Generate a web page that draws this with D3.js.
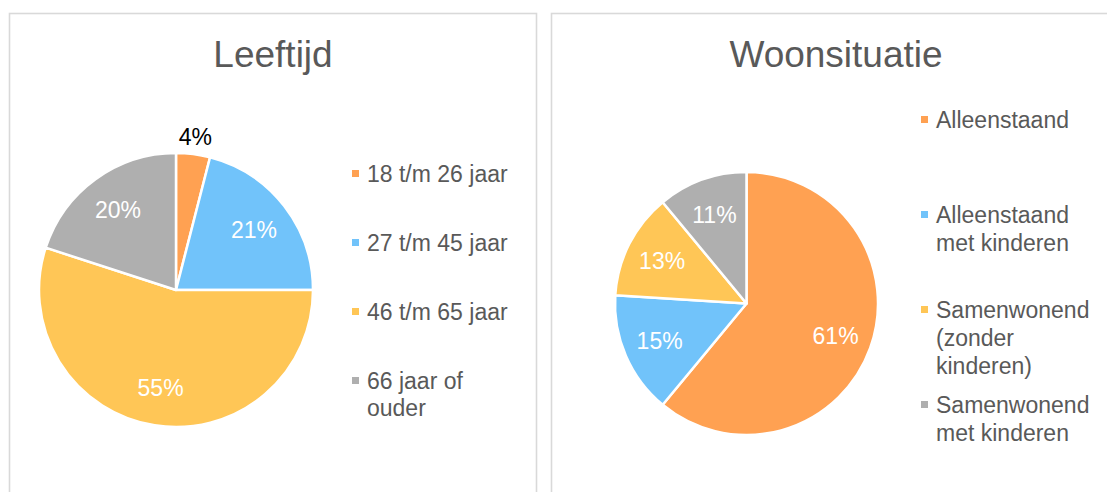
<!DOCTYPE html>
<html>
<head>
<meta charset="utf-8">
<script src="https://cdnjs.cloudflare.com/ajax/libs/d3/7.8.5/d3.min.js"></script>
<style>
  body { margin: 0; background: #fff; }
  svg { display: block; font-family: "Liberation Sans", Arial, sans-serif; }
</style>
</head>
<body>
<div id="chart"></div>
<script>

var ageCategories = ["18 t/m 26 jaar", "27 t/m 45 jaar", "46 t/m 65 jaar", "66 jaar of ouder"],
    ageValues = [4, 21, 55, 20];

var livingCategories = ["Alleenstaand", "Alleenstaand met kinderen", "Samenwonend (zonder kinderen)", "Samenwonend met kinderen"],
    livingValues = [61, 15, 13, 11];

var sliceColors = ["#FFA152", "#71C3FA", "#FFC656", "#AFAFAF"];

var svg = d3.select("#chart").append("svg")
    .attr("width", 1107)
    .attr("height", 492);

// chart frames
svg.append("rect")
  .attr("x", 9.5).attr("y", 13.5)
  .attr("width", 527).attr("height", 520)
  .attr("fill", "none").attr("stroke", "#D9D9D9").attr("stroke-width", 1.6);

svg.append("rect")
  .attr("x", 551.5).attr("y", 13.5)
  .attr("width", 600).attr("height", 520)
  .attr("fill", "none").attr("stroke", "#D9D9D9").attr("stroke-width", 1.6);

drawPie({
  title: "Leeftijd", titleX: 273,
  cx: 176, cy: 290, r: 137,
  categories: ageCategories, values: ageValues,
  legendX: 352, legendTop: 182, legendStep: 69, lineHeight: 27, wrapWidth: 155,
  outside: [0]
});

drawPie({
  title: "Woonsituatie", titleX: 836,
  cx: 746.5, cy: 303.5, r: 131.5,
  categories: livingCategories, values: livingValues,
  legendX: 921, legendTop: 128, legendStep: 95, lineHeight: 28, wrapWidth: 160,
  outside: []
});

function drawPie(opt) {
  var g = svg.append("g");

  g.append("text")
    .attr("x", opt.titleX).attr("y", 67)
    .attr("text-anchor", "middle")
    .attr("font-size", 37)
    .attr("fill", "#595959")
    .text(opt.title);

  var color = d3.scaleOrdinal().domain(opt.categories).range(sliceColors);

  var pie = d3.pie().sort(null).value(function(d) { return d.value; });
  var data = pie(opt.categories.map(function(c, i) { return {name: c, value: opt.values[i]}; }));

  var arc = d3.arc().innerRadius(0).outerRadius(opt.r),
      labelArc = d3.arc().innerRadius(opt.r * 0.72).outerRadius(opt.r * 0.72),
      outerArc = d3.arc().innerRadius(opt.r * 1.13).outerRadius(opt.r * 1.13);

  var pieG = g.append("g").attr("transform", "translate(" + opt.cx + "," + opt.cy + ")");

  pieG.selectAll("path.slice")
    .data(data)
    .enter().append("path")
    .attr("class", "slice")
    .attr("d", arc)
    .attr("fill", function(d) { return color(d.data.name); })
    .attr("stroke", "#fff")
    .attr("stroke-width", 2.5)
    .attr("stroke-linejoin", "round");

  pieG.selectAll("text.lbl")
    .data(data)
    .enter().append("text")
    .attr("class", "lbl")
    .attr("transform", function(d, i) {
      var a = opt.outside.indexOf(i) >= 0 ? outerArc : labelArc;
      return "translate(" + a.centroid(d) + ")";
    })
    .attr("dy", "0.36em")
    .attr("text-anchor", "middle")
    .attr("font-size", 23)
    .attr("fill", function(d, i) { return opt.outside.indexOf(i) >= 0 ? "#000" : "#fff"; })
    .text(function(d) { return d.data.value + "%"; });

  // legend
  var leg = g.selectAll("g.leg")
    .data(opt.categories)
    .enter().append("g")
    .attr("class", "leg")
    .attr("transform", function(d, i) { return "translate(" + opt.legendX + "," + (opt.legendTop + i * opt.legendStep) + ")"; });

  leg.append("rect")
    .attr("x", 0).attr("y", -12)
    .attr("width", 7).attr("height", 7)
    .attr("fill", function(d) { return color(d); });

  leg.each(function(d) {
    var t = d3.select(this).append("text")
      .attr("font-size", 23)
      .attr("fill", "#595959");
    var words = d.split(" "), line = [], n = 0,
        tspan = t.append("tspan").attr("x", 15).attr("y", 0);
    words.forEach(function(w) {
      line.push(w);
      tspan.text(line.join(" "));
      if (tspan.node().getComputedTextLength() > opt.wrapWidth && line.length > 1) {
        line.pop();
        tspan.text(line.join(" "));
        line = [w];
        n++;
        tspan = t.append("tspan").attr("x", 15).attr("y", n * opt.lineHeight).text(w);
      }
    });
  });
}

</script>
</body>
</html>
